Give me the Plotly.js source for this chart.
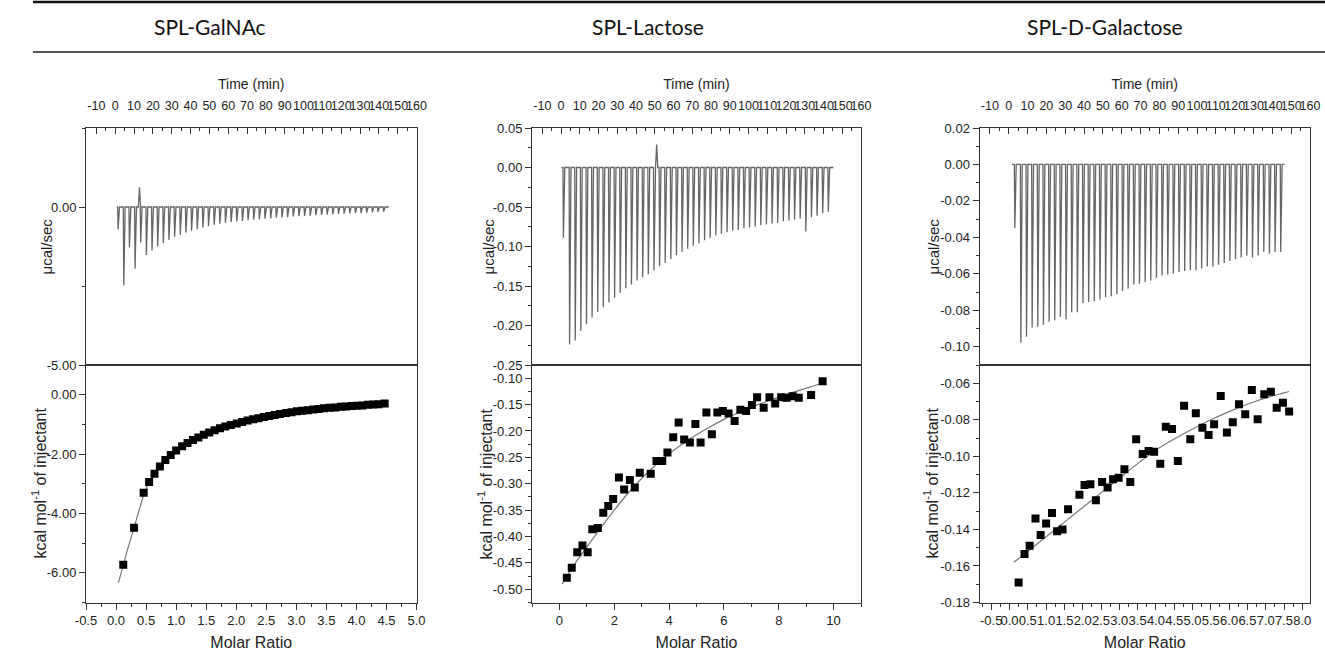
<!DOCTYPE html>
<html>
<head>
<meta charset="utf-8">
<script src="https://cdn.plot.ly/plotly-3.0.1.min.js"></script>
<style>html,body{margin:0;padding:0;background:#fff;}#chart{width:1325px;height:655px;}</style>
</head>
<body>
<div id="chart"></div>
<script>
// ---------------- DATA ----------------
const panelTitles = ['SPL-GalNAc', 'SPL-Lactose', 'SPL-D-Galactose'];

// time axis tick labels (shared by the three raw-data panels)
const timeTickVals = [-10,0,10,20,30,40,50,60,70,80,90,100,110,120,130,140,150,160];
const timeTickText = ['-10','0','10','20','30','40','50','60','70','80','90','100','110','120','130','140','150','160'];

// ---- SPL-GalNAc raw thermogram (µcal/sec) ----
const galInjTime = [1.3,4.3,7.3,10.3,13.3,16.3,19.3,22.3,25.3,28.3,31.3,34.3,37.3,40.3,43.3,46.3,49.3,52.3,55.3,58.3,61.3,64.3,67.3,70.3,73.3,76.3,79.3,82.3,85.3,88.3,91.3,94.3,97.3,100.3,103.3,106.3,109.3,112.3,115.3,118.3,121.3,124.3,127.3,130.3,133.3,136.3,139.3,142.3];
const galInjPeak = [-0.70,-2.48,-1.28,-1.95,-1.12,-1.52,-1.38,-1.25,-1.14,-1.04,-0.94,-0.88,-0.81,-0.75,-0.70,-0.65,-0.61,-0.56,-0.53,-0.50,-0.48,-0.46,-0.44,-0.42,-0.40,-0.39,-0.37,-0.36,-0.34,-0.33,-0.32,-0.30,-0.29,-0.28,-0.27,-0.26,-0.25,-0.24,-0.23,-0.22,-0.21,-0.20,-0.19,-0.19,-0.18,-0.17,-0.16,-0.15];
const galBumpTime = [12.9];
const galBumpPeak = [0.62];
const galBaseline = [0.8, 145.3];
// ---- SPL-GalNAc integrated heats ----
const galRatio = [0.12,0.30,0.46,0.55,0.64,0.73,0.82,0.91,1.00,1.10,1.19,1.28,1.37,1.46,1.55,1.64,1.73,1.82,1.91,2.01,2.10,2.19,2.28,2.37,2.46,2.55,2.64,2.73,2.83,2.92,3.01,3.10,3.19,3.28,3.37,3.46,3.55,3.65,3.74,3.83,3.92,4.01,4.10,4.19,4.28,4.37,4.47];
const galHeat = [-5.73,-4.48,-3.30,-2.94,-2.66,-2.42,-2.20,-2.03,-1.88,-1.74,-1.63,-1.53,-1.44,-1.35,-1.27,-1.20,-1.13,-1.07,-1.02,-0.97,-0.92,-0.87,-0.83,-0.79,-0.75,-0.72,-0.68,-0.65,-0.62,-0.59,-0.56,-0.54,-0.52,-0.50,-0.48,-0.46,-0.44,-0.43,-0.41,-0.40,-0.38,-0.37,-0.36,-0.34,-0.33,-0.32,-0.30];
const galFitX = [0.04,0.12,0.2,0.3,0.4,0.47,0.55,0.64,0.72,0.82,1.0,1.25,1.5,1.75,2.0,2.5,3.0,3.5,4.0,4.5];
const galFitY = [-6.33,-5.75,-5.15,-4.48,-3.78,-3.32,-2.96,-2.70,-2.46,-2.24,-1.88,-1.53,-1.29,-1.11,-0.97,-0.74,-0.56,-0.45,-0.37,-0.29];

// ---- SPL-Lactose raw thermogram ----
const lacInjTime = [1.0,4.3,7.3,10.3,13.3,16.3,19.3,22.3,25.3,28.3,31.3,34.3,37.3,40.3,43.3,46.3,49.3,52.3,55.3,58.3,61.3,64.3,67.3,70.3,73.3,76.3,79.3,82.3,85.3,88.3,91.3,94.3,97.3,100.3,103.3,106.3,109.3,112.3,115.3,118.3,121.3,124.3,127.3,130.3,133.3,136.3,139.3,142.3];
const lacInjPeak = [-0.089,-0.224,-0.219,-0.207,-0.198,-0.190,-0.183,-0.177,-0.171,-0.165,-0.159,-0.153,-0.148,-0.143,-0.139,-0.135,-0.130,-0.125,-0.121,-0.116,-0.111,-0.107,-0.103,-0.099,-0.096,-0.092,-0.089,-0.086,-0.084,-0.082,-0.080,-0.079,-0.077,-0.076,-0.075,-0.073,-0.072,-0.071,-0.070,-0.068,-0.067,-0.066,-0.065,-0.081,-0.063,-0.061,-0.058,-0.056];
const lacBumpTime = [51.0];
const lacBumpPeak = [0.029];
const lacBaseline = [0.2, 145.3];
// ---- SPL-Lactose integrated heats ----
const lacRatio = [0.27,0.45,0.65,0.84,1.03,1.20,1.40,1.60,1.78,1.96,2.17,2.36,2.57,2.75,2.93,3.33,3.54,3.75,3.94,4.15,4.35,4.55,4.76,4.96,5.15,5.36,5.56,5.76,5.96,6.17,6.39,6.60,6.81,7.02,7.21,7.45,7.66,7.87,8.09,8.29,8.51,8.73,9.18,9.60];
const lacHeat = [-0.478,-0.459,-0.430,-0.417,-0.430,-0.386,-0.384,-0.355,-0.342,-0.329,-0.288,-0.311,-0.293,-0.307,-0.279,-0.281,-0.257,-0.257,-0.241,-0.212,-0.184,-0.216,-0.222,-0.187,-0.222,-0.165,-0.206,-0.165,-0.162,-0.167,-0.181,-0.160,-0.162,-0.151,-0.136,-0.156,-0.136,-0.148,-0.136,-0.137,-0.134,-0.137,-0.132,-0.106];
const lacFitX = [0.1,0.5,1.0,1.5,2.0,2.5,3.0,3.5,4.0,4.5,5.0,5.5,6.0,6.5,7.0,7.5,8.0,8.5,9.0,9.5,9.7];
const lacFitY = [-0.490,-0.456,-0.420,-0.384,-0.350,-0.318,-0.290,-0.265,-0.243,-0.224,-0.207,-0.192,-0.178,-0.166,-0.155,-0.145,-0.136,-0.127,-0.119,-0.111,-0.107];

// ---- SPL-D-Galactose raw thermogram ----
const dgaInjTime = [3.0,6.2,9.2,12.2,15.2,18.2,21.2,24.2,27.2,30.2,33.2,36.2,39.2,42.2,45.2,48.2,51.2,54.2,57.2,60.2,63.2,66.2,69.2,72.2,75.2,78.2,81.2,84.2,87.2,90.2,93.2,96.2,99.2,102.2,105.2,108.2,111.2,114.2,117.2,120.2,123.2,126.2,129.2,132.2,135.2,138.2,141.2,144.2];
const dgaInjPeak = [-0.035,-0.0978,-0.0945,-0.0894,-0.0890,-0.0880,-0.0863,-0.0854,-0.0836,-0.0850,-0.0810,-0.0810,-0.0760,-0.0754,-0.0749,-0.0741,-0.0727,-0.0723,-0.0712,-0.0694,-0.0681,-0.0658,-0.0654,-0.0645,-0.0636,-0.0621,-0.0609,-0.0603,-0.0600,-0.0590,-0.0585,-0.0580,-0.0580,-0.0570,-0.0560,-0.0560,-0.0550,-0.0540,-0.0530,-0.0520,-0.0510,-0.0500,-0.0510,-0.0500,-0.0480,-0.0490,-0.0480,-0.0480];
const dgaBumpTime = [];
const dgaBumpPeak = [];
const dgaBaseline = [1.8, 146.5];
// ---- SPL-D-Galactose integrated heats ----
const dgaRatio = [0.25,0.41,0.55,0.71,0.85,1.00,1.16,1.30,1.45,1.60,1.91,2.05,2.21,2.36,2.53,2.68,2.83,2.98,3.14,3.30,3.46,3.64,3.80,3.95,4.12,4.27,4.44,4.60,4.77,4.94,5.09,5.27,5.44,5.59,5.77,5.94,6.10,6.27,6.44,6.62,6.78,6.96,7.14,7.30,7.47,7.64];
const dgaHeat = [-0.169,-0.1535,-0.149,-0.134,-0.143,-0.1367,-0.131,-0.141,-0.140,-0.129,-0.121,-0.1157,-0.1153,-0.124,-0.114,-0.117,-0.1126,-0.1117,-0.107,-0.114,-0.0907,-0.0987,-0.0971,-0.0975,-0.104,-0.0838,-0.085,-0.1026,-0.0723,-0.0907,-0.0764,-0.0843,-0.0883,-0.0825,-0.067,-0.087,-0.0814,-0.0715,-0.077,-0.0637,-0.0797,-0.066,-0.0646,-0.0734,-0.0706,-0.0755];
const dgaFitX = [0.12,0.5,1.0,1.5,2.0,2.5,3.0,3.5,4.0,4.5,5.0,5.5,6.0,6.5,7.0,7.64];
const dgaFitY = [-0.158,-0.152,-0.144,-0.136,-0.128,-0.120,-0.112,-0.104,-0.0965,-0.0905,-0.085,-0.080,-0.0755,-0.0715,-0.068,-0.0645];

// ---- axis tick labels ----
const galTopYVals = [0, -5];            const galTopYText = ['0.00','-5.00'];
const galBotYVals = [0,-2,-4,-6];       const galBotYText = ['0.00','-2.00','-4.00','-6.00'];
const galXVals = [-0.5,0,0.5,1,1.5,2,2.5,3,3.5,4,4.5,5];
const galXText = ['-0.5','0.0','0.5','1.0','1.5','2.0','2.5','3.0','3.5','4.0','4.5','5.0'];
const lacTopYVals = [0.05,0,-0.05,-0.10,-0.15,-0.20,-0.25];
const lacTopYText = ['0.05','0.00','-0.05','-0.10','-0.15','-0.20','-0.25'];
const lacBotYVals = [-0.10,-0.15,-0.20,-0.25,-0.30,-0.35,-0.40,-0.45,-0.50];
const lacBotYText = ['-0.10','-0.15','-0.20','-0.25','-0.30','-0.35','-0.40','-0.45','-0.50'];
const lacXVals = [0,2,4,6,8,10];        const lacXText = ['0','2','4','6','8','10'];
const dgaTopYVals = [0.02,0,-0.02,-0.04,-0.06,-0.08,-0.10];
const dgaTopYText = ['0.02','0.00','-0.02','-0.04','-0.06','-0.08','-0.10'];
const dgaBotYVals = [-0.06,-0.08,-0.10,-0.12,-0.14,-0.16,-0.18];
const dgaBotYText = ['-0.06','-0.08','-0.10','-0.12','-0.14','-0.16','-0.18'];
const dgaXVals = [-0.5,0,0.5,1,1.5,2,2.5,3,3.5,4,4.5,5,5.5,6,6.5,7,7.5,8];
const dgaXText = ['-0.5','0.0','0.5','1.0','1.5','2.0','2.5','3.0','3.5','4.0','4.5','5.0','5.5','6.0','6.5','7.0','7.5','8.0'];

// ---------------- BUILD ----------------
const W = 1325, H = 655;
const FONT = 'Liberation Sans, Arial, sans-serif';
const TOP = [128, 365], BOT = [365, 602.5];

function thermo(times, peaks, bT, bV, base) {
  const ev = [];
  times.forEach((t, i) => ev.push({t: t, v: peaks[i], k: 0}));
  bT.forEach((t, i) => ev.push({t: t, v: bV[i], k: 1}));
  ev.sort((a, b) => a.t - b.t);
  const x = [base[0]], y = [0];
  ev.forEach(e => {
    if (e.k === 0) { x.push(e.t, e.t + 0.25, e.t + 1.0); y.push(0, e.v, 0); }
    else { x.push(e.t - 0.6, e.t, e.t + 0.6); y.push(0, e.v, 0); }
  });
  x.push(base[1]); y.push(0);
  return {x: x, y: y};
}

const panels = [
  {box: [86, 416.5], tRange: [-15.5, 160], yT: [-5, 2.5], yTminor: 2.5, yTv: galTopYVals, yTt: galTopYText,
   xB: [-0.5, 5.0], xBv: galXVals, xBt: galXText, xBminor: 0.25,
   yB: [-7, 1], yBv: galBotYVals, yBt: galBotYText, yBminor: 1,
   th: thermo(galInjTime, galInjPeak, galBumpTime, galBumpPeak, galBaseline),
   rx: galRatio, ry: galHeat, fx: galFitX, fy: galFitY,
   titleX: 210, yt1X: 46, yt2X: 39},
  {box: [532, 861], tRange: [-15.5, 160], yT: [-0.25, 0.05], yTminor: 0.025, yTv: lacTopYVals, yTt: lacTopYText,
   xB: [-1, 11], xBv: lacXVals, xBt: lacXText, xBminor: 1,
   yB: [-0.525, -0.075], yBv: lacBotYVals, yBt: lacBotYText, yBminor: 0.025,
   th: thermo(lacInjTime, lacInjPeak, lacBumpTime, lacBumpPeak, lacBaseline),
   rx: lacRatio, ry: lacHeat, fx: lacFitX, fy: lacFitY,
   titleX: 648, yt1X: 488, yt2X: 485},
  {box: [979.5, 1310], tRange: [-15.5, 160], yT: [-0.11, 0.02], yTminor: 0.01, yTv: dgaTopYVals, yTt: dgaTopYText,
   xB: [-0.82, 8.21], xBv: dgaXVals, xBt: dgaXText, xBminor: 0.25,
   yB: [-0.18, -0.05], yBv: dgaBotYVals, yBt: dgaBotYText, yBminor: 0.01,
   th: thermo(dgaInjTime, dgaInjPeak, dgaBumpTime, dgaBumpPeak, dgaBaseline),
   rx: dgaRatio, ry: dgaHeat, fx: dgaFitX, fy: dgaFitY,
   titleX: 1105, yt1X: 933, yt2X: 931}
];

const layout = {
  width: W, height: H, margin: {l: 0, r: 0, t: 0, b: 0},
  paper_bgcolor: '#fff', plot_bgcolor: 'rgba(0,0,0,0)', showlegend: false,
  font: {family: FONT, color: '#222'},
  annotations: [], shapes: []
};
const data = [];
let xn = 0, yn = 0;
const nm = (p, n) => n === 1 ? p : p + n;
const key = (p, n) => n === 1 ? p + 'axis' : p + 'axis' + n;

const common = {
  showgrid: false, zeroline: false, showline: true, linecolor: '#333', linewidth: 1,
  tickcolor: '#333', tickwidth: 1, ticklen: 6, tickangle: 0, tickmode: 'array',
  tickfont: {family: FONT, size: 13, color: '#222'}, fixedrange: true
};
function minor(d, dir) { return {tickmode: 'linear', tick0: 0, dtick: d, ticks: dir, ticklen: 3, tickcolor: '#333', tickwidth: 1}; }

panels.forEach((p, i) => {
  const dom = [p.box[0] / W, p.box[1] / W];
  const domT = [1 - TOP[1] / H, 1 - TOP[0] / H];
  const domB = [1 - BOT[1] / H, 1 - BOT[0] / H];
  const xT = ++xn, xB = ++xn, xB2 = ++xn;
  const yT = ++yn, yB = ++yn, yT2 = ++yn, yB2 = ++yn;

  layout[key('x', xT)] = Object.assign({}, common, {
    domain: dom, anchor: nm('y', yT), side: 'top', range: p.tRange,
    tickvals: timeTickVals, ticktext: timeTickText, ticks: 'inside', mirror: true,
    tickfont: {family: FONT, size: 12.5, color: '#222'},
    ticklabelstandoff: 12, minor: minor(5, 'inside'),
    title: {text: 'Time (min)', font: {family: FONT, size: 14, color: '#222'}, standoff: 6}
  });
  layout[key('y', yT)] = Object.assign({}, common, {
    domain: domT, anchor: nm('x', xT), range: p.yT, tickvals: p.yTv, ticktext: p.yTt,
    ticks: 'outside', mirror: true, minor: minor(p.yTminor, 'outside')
  });
  layout[key('y', yT2)] = Object.assign({}, common, {
    overlaying: nm('y', yT), anchor: nm('x', xT), side: 'right', range: p.yT, tickvals: p.yTv,
    ticks: 'inside', showline: false, showticklabels: false, minor: minor(p.yTminor, 'inside')
  });
  layout[key('x', xB)] = Object.assign({}, common, {
    domain: dom, anchor: nm('y', yB), side: 'bottom', range: p.xB,
    tickvals: p.xBv, ticktext: p.xBt, ticks: 'outside', mirror: true, minor: minor(p.xBminor, 'outside'),
    title: {text: 'Molar Ratio', font: {family: FONT, size: 16, color: '#222'}, standoff: 9}
  });
  layout[key('x', xB2)] = Object.assign({}, common, {
    overlaying: nm('x', xB), anchor: nm('y', yB), side: 'top', range: p.xB, tickvals: p.xBv,
    ticks: 'inside', showline: false, showticklabels: false, minor: minor(p.xBminor, 'inside')
  });
  layout[key('y', yB)] = Object.assign({}, common, {
    domain: domB, anchor: nm('x', xB), range: p.yB, tickvals: p.yBv, ticktext: p.yBt,
    ticks: 'outside', mirror: true, minor: minor(p.yBminor, 'outside')
  });
  layout[key('y', yB2)] = Object.assign({}, common, {
    overlaying: nm('y', yB), anchor: nm('x', xB), side: 'right', range: p.yB, tickvals: p.yBv,
    ticks: 'inside', showline: false, showticklabels: false, minor: minor(p.yBminor, 'inside')
  });

  data.push({type: 'scatter', mode: 'lines', x: p.th.x, y: p.th.y, xaxis: nm('x', xT), yaxis: nm('y', yT),
    line: {color: '#666', width: 1.3}, hoverinfo: 'skip'});
  data.push({type: 'scatter', mode: 'lines', x: p.fx, y: p.fy, xaxis: nm('x', xB), yaxis: nm('y', yB),
    line: {color: '#777', width: 1.2, shape: 'spline', smoothing: 0.6}});
  data.push({type: 'scatter', mode: 'markers', x: p.rx, y: p.ry, xaxis: nm('x', xB), yaxis: nm('y', yB),
    marker: {symbol: 'square', size: 8, color: '#000'}});

  layout.annotations.push({xref: 'paper', yref: 'paper', x: p.titleX / W, y: 1 - 27 / H, xanchor: 'center', yanchor: 'middle',
    text: panelTitles[i], showarrow: false, font: {family: 'Lato, Noto Sans, sans-serif', size: 21, color: '#111'}});
  layout.annotations.push({xref: 'paper', yref: 'paper', x: p.yt1X / W, y: 1 - 246.5 / H, xanchor: 'center', yanchor: 'middle',
    text: 'μcal/sec', textangle: -90, showarrow: false, font: {family: FONT, size: 15, color: '#222'}});
  layout.annotations.push({xref: 'paper', yref: 'paper', x: p.yt2X / W, y: 1 - 483.5 / H, xanchor: 'center', yanchor: 'middle',
    text: 'kcal mol<sup>-1</sup> of injectant', textangle: -90, showarrow: false, font: {family: FONT, size: 16, color: '#222'}});
});

layout.shapes.push({type: 'line', xref: 'paper', yref: 'paper', x0: 33 / W, x1: 1, y0: 1 - 2 / H, y1: 1 - 2 / H, line: {color: '#111', width: 2.5}});
layout.shapes.push({type: 'line', xref: 'paper', yref: 'paper', x0: 33 / W, x1: 1, y0: 1 - 52 / H, y1: 1 - 52 / H, line: {color: '#555', width: 2}});

Plotly.newPlot('chart', data, layout, {displayModeBar: false, staticPlot: true});
</script>
</body>
</html>
